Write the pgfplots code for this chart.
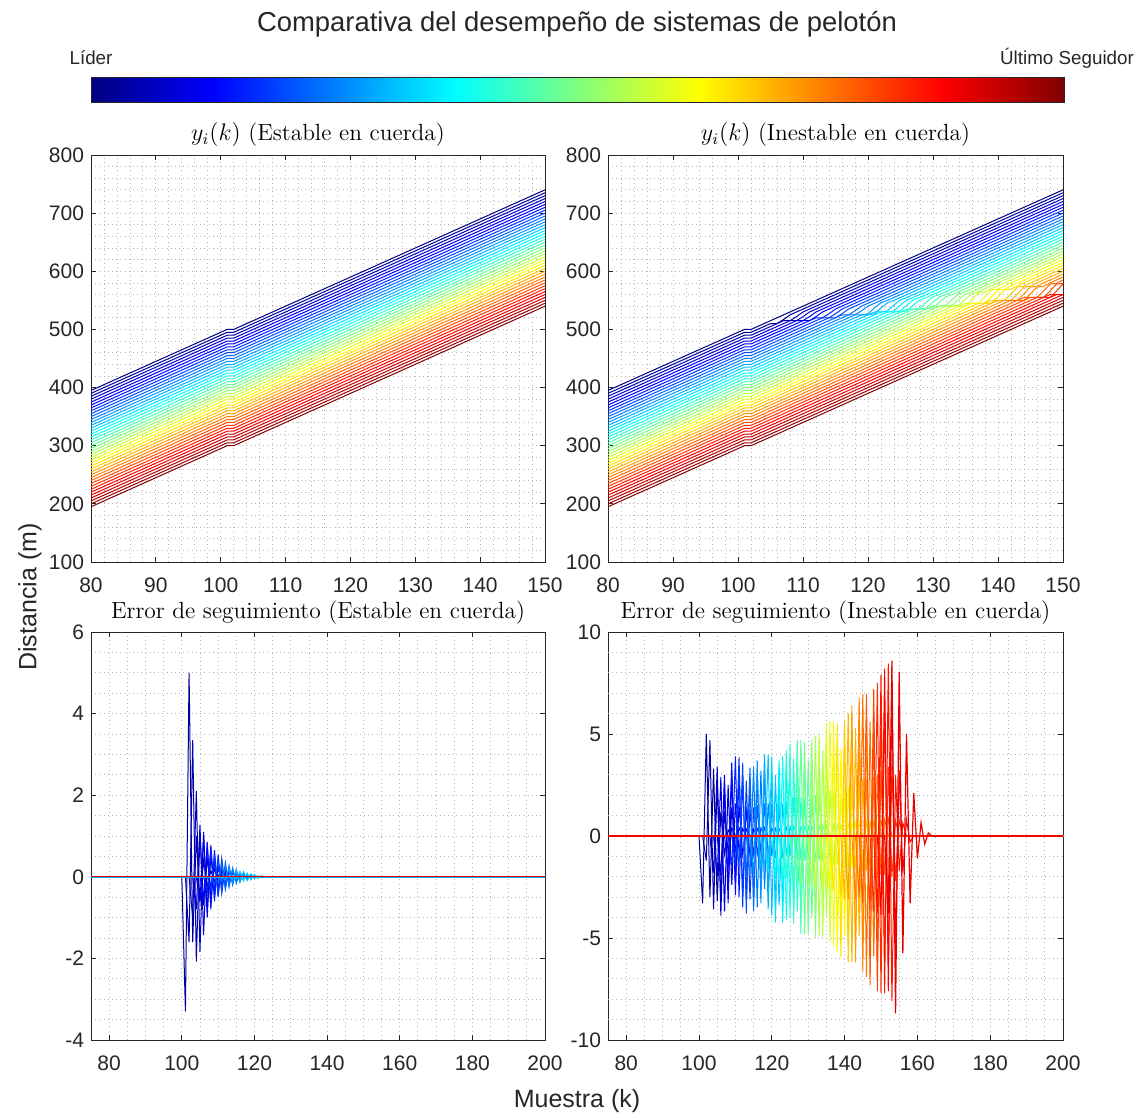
\documentclass[border=0pt]{standalone}
\usepackage{fontspec}
\usepackage{pgfplots}
\pgfplotsset{compat=1.18}
\newfontfamily\hv{Liberation Sans}
\definecolor{axgray}{rgb}{0.15,0.15,0.15}
\pgfplotsset{
  colormap={matjet}{rgb255(0cm)=(0,0,128) rgb255(1cm)=(0,0,255) rgb255(3cm)=(0,255,255) rgb255(5cm)=(255,255,0) rgb255(7cm)=(255,0,0) rgb255(8cm)=(128,0,0)},
  L/.style={color of colormap={#1 of matjet}, line width=0.5pt, mark=none},
  pan/.style={scale only axis, anchor=south west,
    axis line style={draw=axgray, line width=0.45pt},
    tick style={draw=axgray, line width=0.45pt},
    major tick length=2.5pt, minor tick length=0pt, minor tick num=4,
    grid=both,
    major grid style={draw=black!30, line width=0.4pt, dash pattern=on 0.5pt off 1.6pt},
    minor grid style={draw=black!30, line width=0.4pt, dash pattern=on 0.5pt off 1.6pt},
    tick label style={font=\hv\fontsize{10.5}{12}\selectfont, text=axgray},
    xticklabel style={yshift=-4.5pt},
    /pgf/number format/assume math mode=true,
    title style={font=\fontsize{11.7}{14}\selectfont, text=black, yshift=-5.5pt},
  },
}
\begin{document}
\begin{tikzpicture}
\useasboundingbox (0,0) rectangle (570pt,559pt);

% ---------------- colorbar ----------------
\begin{axis}[at={(45.5pt,507.5pt)}, anchor=south west, scale only axis,
  width=486.5pt, height=12.5pt, xmin=0, xmax=1, ymin=0, ymax=1,
  xtick=\empty, ytick=\empty, axis line style={draw=axgray, line width=0.5pt},
  colormap name=matjet, axis on top]
\addplot[surf, shader=interp, point meta=x, mesh/rows=2] coordinates {
(0,0) (0.125,0) (0.375,0) (0.625,0) (0.875,0) (1,0)
(0,1) (0.125,1) (0.375,1) (0.625,1) (0.875,1) (1,1)};
\end{axis}

% ---------------- top left ----------------
\begin{axis}[pan, at={(45.5pt,278pt)}, width=227pt, height=203.5pt,
  xmin=80, xmax=150, ymin=100, ymax=800,
  xtick={80,90,...,150}, ytick={100,200,...,800},
  title={$y_i(k)$ (Estable en cuerda)}]
\addplot[L=0] coordinates {(80,395)(101,500)(102,500)(150,740)};
\addplot[L=25] coordinates {(80,390)(101,495)(102,495)(150,735)};
\addplot[L=50] coordinates {(80,385)(101,490)(102,490)(150,730)};
\addplot[L=75] coordinates {(80,380)(101,485)(102,485)(150,725)};
\addplot[L=100] coordinates {(80,375)(101,480)(102,480)(150,720)};
\addplot[L=125] coordinates {(80,370)(101,475)(102,475)(150,715)};
\addplot[L=150] coordinates {(80,365)(101,470)(102,470)(150,710)};
\addplot[L=175] coordinates {(80,360)(101,465)(102,465)(150,705)};
\addplot[L=200] coordinates {(80,355)(101,460)(102,460)(150,700)};
\addplot[L=225] coordinates {(80,350)(101,455)(102,455)(150,695)};
\addplot[L=250] coordinates {(80,345)(101,450)(102,450)(150,690)};
\addplot[L=275] coordinates {(80,340)(101,445)(102,445)(150,685)};
\addplot[L=300] coordinates {(80,335)(101,440)(102,440)(150,680)};
\addplot[L=325] coordinates {(80,330)(101,435)(102,435)(150,675)};
\addplot[L=350] coordinates {(80,325)(101,430)(102,430)(150,670)};
\addplot[L=375] coordinates {(80,320)(101,425)(102,425)(150,665)};
\addplot[L=400] coordinates {(80,315)(101,420)(102,420)(150,660)};
\addplot[L=425] coordinates {(80,310)(101,415)(102,415)(150,655)};
\addplot[L=450] coordinates {(80,305)(101,410)(102,410)(150,650)};
\addplot[L=475] coordinates {(80,300)(101,405)(102,405)(150,645)};
\addplot[L=500] coordinates {(80,295)(101,400)(102,400)(150,640)};
\addplot[L=525] coordinates {(80,290)(101,395)(102,395)(150,635)};
\addplot[L=550] coordinates {(80,285)(101,390)(102,390)(150,630)};
\addplot[L=575] coordinates {(80,280)(101,385)(102,385)(150,625)};
\addplot[L=600] coordinates {(80,275)(101,380)(102,380)(150,620)};
\addplot[L=625] coordinates {(80,270)(101,375)(102,375)(150,615)};
\addplot[L=650] coordinates {(80,265)(101,370)(102,370)(150,610)};
\addplot[L=675] coordinates {(80,260)(101,365)(102,365)(150,605)};
\addplot[L=700] coordinates {(80,255)(101,360)(102,360)(150,600)};
\addplot[L=725] coordinates {(80,250)(101,355)(102,355)(150,595)};
\addplot[L=750] coordinates {(80,245)(101,350)(102,350)(150,590)};
\addplot[L=775] coordinates {(80,240)(101,345)(102,345)(150,585)};
\addplot[L=800] coordinates {(80,235)(101,340)(102,340)(150,580)};
\addplot[L=825] coordinates {(80,230)(101,335)(102,335)(150,575)};
\addplot[L=850] coordinates {(80,225)(101,330)(102,330)(150,570)};
\addplot[L=875] coordinates {(80,220)(101,325)(102,325)(150,565)};
\addplot[L=900] coordinates {(80,215)(101,320)(102,320)(150,560)};
\addplot[L=925] coordinates {(80,210)(101,315)(102,315)(150,555)};
\addplot[L=950] coordinates {(80,205)(101,310)(102,310)(150,550)};
\addplot[L=975] coordinates {(80,200)(101,305)(102,305)(150,545)};
\addplot[L=1000] coordinates {(80,195)(101,300)(102,300)(150,540)};
\end{axis}

% ---------------- top right ----------------
\begin{axis}[pan, at={(304pt,278pt)}, width=227.5pt, height=203.5pt,
  xmin=80, xmax=150, ymin=100, ymax=800,
  xtick={80,90,...,150}, ytick={100,200,...,800},
  title={$y_i(k)$ (Inestable en cuerda)}]
\addplot[L=0] coordinates {(80,395)(101,500)(102,500)(150,740)};
\addplot[L=25] coordinates {(80,390)(101,495)(102,495)(105,510)(106,510)(107,517)(108,525)(150,735)};
\addplot[L=50] coordinates {(80,385)(101,490)(102,490)(107,515)(108,515)(109,522)(110,530)(150,730)};
\addplot[L=75] coordinates {(80,380)(101,485)(102,485)(108,515)(109,515)(110,522)(111,530)(150,725)};
\addplot[L=100] coordinates {(80,375)(101,480)(102,480)(109,515)(110,515)(111,522)(112,530)(150,720)};
\addplot[L=125] coordinates {(80,370)(101,475)(102,475)(110,515)(111,515)(112,522)(113,530)(150,715)};
\addplot[L=150] coordinates {(80,365)(101,470)(102,470)(112,520)(113,520)(114,527)(115,535)(150,710)};
\addplot[L=175] coordinates {(80,360)(101,465)(102,465)(113,520)(114,520)(115,527)(116,535)(150,705)};
\addplot[L=200] coordinates {(80,355)(101,460)(102,460)(114,520)(115,520)(116,527)(117,535)(150,700)};
\addplot[L=225] coordinates {(80,350)(101,455)(102,455)(116,525)(117,525)(118,532)(119,540)(150,695)};
\addplot[L=250] coordinates {(80,345)(101,450)(102,450)(117,525)(118,525)(119,532)(120,540)(150,690)};
\addplot[L=275] coordinates {(80,340)(101,445)(102,445)(118,525)(119,525)(120,527)(121,537)(122,546)(123,550)(150,685)};
\addplot[L=300] coordinates {(80,335)(101,440)(102,440)(119,525)(120,525)(121,527)(122,537)(123,546)(124,550)(150,680)};
\addplot[L=325] coordinates {(80,330)(101,435)(102,435)(121,530)(122,530)(123,532)(124,542)(125,551)(126,555)(150,675)};
\addplot[L=350] coordinates {(80,325)(101,430)(102,430)(122,530)(123,530)(124,532)(125,542)(126,551)(127,555)(150,670)};
\addplot[L=375] coordinates {(80,320)(101,425)(102,425)(123,530)(124,530)(125,532)(126,542)(127,551)(128,555)(150,665)};
\addplot[L=400] coordinates {(80,315)(101,420)(102,420)(124,530)(125,530)(126,532)(127,542)(128,551)(129,555)(150,660)};
\addplot[L=425] coordinates {(80,310)(101,415)(102,415)(126,535)(127,535)(128,537)(129,547)(130,556)(131,560)(150,655)};
\addplot[L=450] coordinates {(80,305)(101,410)(102,410)(127,535)(128,535)(129,537)(130,547)(131,556)(132,560)(150,650)};
\addplot[L=475] coordinates {(80,300)(101,405)(102,405)(128,535)(129,535)(130,537)(131,547)(132,556)(133,560)(150,645)};
\addplot[L=500] coordinates {(80,295)(101,400)(102,400)(130,540)(131,540)(132,542)(133,552)(134,561)(135,565)(150,640)};
\addplot[L=525] coordinates {(80,290)(101,395)(102,395)(131,540)(132,540)(133,542)(134,552)(135,561)(136,565)(150,635)};
\addplot[L=550] coordinates {(80,285)(101,390)(102,390)(132,540)(133,540)(134,542)(135,552)(136,561)(137,565)(150,630)};
\addplot[L=575] coordinates {(80,280)(101,385)(102,385)(133,540)(134,540)(135,540)(136,551)(137,563)(138,564)(139,570)(150,625)};
\addplot[L=600] coordinates {(80,275)(101,380)(102,380)(135,545)(136,545)(137,545)(138,556)(139,568)(140,569)(141,575)(150,620)};
\addplot[L=625] coordinates {(80,270)(101,375)(102,375)(136,545)(137,545)(138,545)(139,556)(140,568)(141,569)(142,575)(150,615)};
\addplot[L=650] coordinates {(80,265)(101,370)(102,370)(137,545)(138,545)(139,545)(140,556)(141,568)(142,569)(143,575)(150,610)};
\addplot[L=675] coordinates {(80,260)(101,365)(102,365)(139,550)(140,550)(141,550)(142,561)(143,573)(144,574)(145,580)(150,605)};
\addplot[L=700] coordinates {(80,255)(101,360)(102,360)(140,550)(141,550)(142,550)(143,561)(144,573)(145,574)(146,580)(150,600)};
\addplot[L=725] coordinates {(80,250)(101,355)(102,355)(141,550)(142,550)(143,550)(144,561)(145,573)(146,574)(147,580)(150,595)};
\addplot[L=750] coordinates {(80,245)(101,350)(102,350)(142,550)(143,550)(144,550)(145,561)(146,573)(147,574)(148,580)(150,590)};
\addplot[L=775] coordinates {(80,240)(101,345)(102,345)(144,555)(145,555)(146,555)(147,566)(148,578)(149,579)(150,585)};
\addplot[L=800] coordinates {(80,235)(101,340)(102,340)(145,555)(146,555)(147,555)(148,566)(149,578)(150,579)(151,585)};
\addplot[L=825] coordinates {(80,230)(101,335)(102,335)(146,555)(147,555)(148,555)(149,566)(150,578)(151,579)};
\addplot[L=850] coordinates {(80,225)(101,330)(102,330)(148,560)(149,560)(150,560)(151,571)};
\addplot[L=875] coordinates {(80,220)(101,325)(102,325)(149,560)(150,560)(151,560)(152,571)};
\addplot[L=900] coordinates {(80,215)(101,320)(102,320)(150,560)};
\addplot[L=925] coordinates {(80,210)(101,315)(102,315)(150,555)};
\addplot[L=950] coordinates {(80,205)(101,310)(102,310)(150,550)};
\addplot[L=975] coordinates {(80,200)(101,305)(102,305)(150,545)};
\addplot[L=1000] coordinates {(80,195)(101,300)(102,300)(150,540)};
\end{axis}

% ---------------- bottom left ----------------
\begin{axis}[pan, at={(45.5pt,39pt)}, width=227pt, height=204pt,
  xmin=75, xmax=200, ymin=-4, ymax=6, minor tick num=3,
  xtick={80,100,...,200}, ytick={-4,-2,...,6},
  title={Error de seguimiento (Estable en cuerda)}]
\addplot[L=22.5] coordinates {(75,0)(100,0)(101,-3.3)(102,5.0)(103,-1.6)(104,1.0)(105,-0.6)(106,0.4)(107,-0.25)(108,0.15)(109,-0.1)(110,0.05)(111,0)(200,0)};
\addplot[L=45] coordinates {(75,0)(101,0)(102,-1.6)(103,3.35)(104,-2.08)(105,1.1)(106,-0.7)(107,0.45)(108,-0.3)(109,0.2)(110,-0.1)(111,0.05)(112,0)(200,0)};
\addplot[L=67.5] coordinates {(75,0)(102,0)(103,-1.0)(104,2.1)(105,-1.84)(106,1.1)(107,-0.8)(108,0.5)(109,-0.3)(110,0.2)(111,-0.1)(112,0.05)(113,0)(200,0)};
\addplot[L=90] coordinates {(75,0)(103,0)(104,-0.8)(105,1.27)(106,-1.43)(107,0.85)(108,-0.6)(109,0.4)(110,-0.25)(111,0.15)(112,-0.08)(113,0)(200,0)};
\addplot[L=112.5] coordinates {(75,0)(104,0)(105,-0.6)(106,1.0)(107,-1.0)(108,0.78)(109,-0.5)(110,0.35)(111,-0.22)(112,0.12)(113,-0.06)(114,0)(200,0)};
\addplot[L=135] coordinates {(75,0)(105,0)(106,-0.5)(107,0.8)(108,-0.8)(109,0.65)(110,-0.45)(111,0.3)(112,-0.18)(113,0.1)(114,-0.05)(115,0)(200,0)};
\addplot[L=157.5] coordinates {(75,0)(106,0)(107,-0.4)(108,0.7)(109,-0.6)(110,0.55)(111,-0.4)(112,0.25)(113,-0.15)(114,0.08)(115,0)(200,0)};
\addplot[L=180] coordinates {(75,0)(107,0)(108,-0.3)(109,0.55)(110,-0.5)(111,0.45)(112,-0.3)(113,0.2)(114,-0.12)(115,0.06)(116,0)(200,0)};
\addplot[L=202.5] coordinates {(75,0)(108,0)(109,-0.2)(110,0.4)(111,-0.35)(112,0.35)(113,-0.25)(114,0.18)(115,-0.1)(116,0.05)(117,0)(200,0)};
\addplot[L=225] coordinates {(75,0)(109,0)(110,-0.15)(111,0.3)(112,-0.3)(113,0.28)(114,-0.2)(115,0.15)(116,-0.08)(117,0.04)(118,0)(200,0)};
\addplot[L=247.5] coordinates {(75,0)(110,0)(111,-0.1)(112,0.25)(113,-0.22)(114,0.22)(115,-0.16)(116,0.12)(117,-0.07)(118,0.04)(119,0)(200,0)};
\addplot[L=270] coordinates {(75,0)(111,0)(112,-0.08)(113,0.2)(114,-0.18)(115,0.18)(116,-0.13)(117,0.1)(118,-0.06)(119,0.03)(120,0)(200,0)};
\addplot[L=292.5] coordinates {(75,0)(113,0)(114,-0.06)(115,0.15)(116,-0.13)(117,0.12)(118,-0.09)(119,0.07)(120,-0.04)(121,0.02)(122,0)(200,0)};
\addplot[L=315] coordinates {(75,0)(114,0)(115,-0.05)(116,0.12)(117,-0.1)(118,0.09)(119,-0.07)(120,0.05)(121,-0.03)(122,0.02)(123,0)(200,0)};
\addplot[L=337.5] coordinates {(75,0)(116,0)(117,-0.04)(118,0.08)(119,-0.07)(120,0.06)(121,-0.04)(122,0.03)(123,-0.02)(124,0)(200,0)};
\addplot[L=360] coordinates {(75,0)(200,0)};
\addplot[L=382.5] coordinates {(75,0)(200,0)};
\addplot[L=405] coordinates {(75,0)(200,0)};
\addplot[L=427.5] coordinates {(75,0)(200,0)};
\addplot[L=450] coordinates {(75,0)(200,0)};
\addplot[L=472.5] coordinates {(75,0)(200,0)};
\addplot[L=495] coordinates {(75,0)(200,0)};
\addplot[L=517.5] coordinates {(75,0)(200,0)};
\addplot[L=540] coordinates {(75,0)(200,0)};
\addplot[L=562.5] coordinates {(75,0)(200,0)};
\addplot[L=585] coordinates {(75,0)(200,0)};
\addplot[L=607.5] coordinates {(75,0)(200,0)};
\addplot[L=630] coordinates {(75,0)(200,0)};
\addplot[L=652.5] coordinates {(75,0)(200,0)};
\addplot[L=675] coordinates {(75,0)(200,0)};
\addplot[L=697.5] coordinates {(75,0)(200,0)};
\addplot[L=720] coordinates {(75,0)(200,0)};
\addplot[L=742.5] coordinates {(75,0)(200,0)};
\addplot[L=765] coordinates {(75,0)(200,0)};
\addplot[L=787.5] coordinates {(75,0)(200,0)};
\addplot[L=810] coordinates {(75,0)(200,0)};
\addplot[L=832.5] coordinates {(75,0)(200,0)};
\addplot[L=855] coordinates {(75,0)(200,0)};
\addplot[L=877.5] coordinates {(75,0)(200,0)};
\addplot[L=900, line width=0.6pt] coordinates {(75,0)(200,0)};
\end{axis}

% ---------------- bottom right ----------------
\begin{axis}[pan, at={(304pt,39pt)}, width=227.5pt, height=204pt,
  xmin=75, xmax=200, ymin=-10, ymax=10, minor tick num=3,
  xtick={80,100,...,200}, ytick={-10,-5,...,10},
  title={Error de seguimiento (Inestable en cuerda)},
  extra y ticks={-9,-8,-7,-6,-4,-3,-2,-1,1,2,3,4,6,7,8,9}, extra y tick labels={},
  extra y tick style={major tick length=0pt, grid=major, major grid style={draw=black!30, line width=0.4pt, dash pattern=on 0.5pt off 1.6pt}},
  yminorgrids=false]
\addplot[L=22.5] coordinates {(75,0)(100,0)(101,-3.3)(102,5.0)(103,-3.0)(104,3.3)(105,-3.2)(106,1.2)(107,-0.9)(108,0.3)(109,0)(200,0)};
\addplot[L=45] coordinates {(75,0)(101,0)(102,-1.2)(103,4.7)(104,-3.6)(105,2.7)(106,-3.1)(107,1.2)(108,-0.8)(109,0.4)(110,0)(200,0)};
\addplot[L=67.5] coordinates {(75,0)(103,0)(104,-1.8)(105,3.4)(106,-3.9)(107,2.4)(108,-2.6)(109,1.4)(110,-0.7)(111,0.4)(112,0)(200,0)};
\addplot[L=90] coordinates {(75,0)(104,0)(105,-2.0)(106,2.9)(107,-3.7)(108,2.5)(109,-2.4)(110,1.6)(111,-0.75)(112,0.36)(113,0)(200,0)};
\addplot[L=112.5] coordinates {(75,0)(105,0)(106,-1.95)(107,3.0)(108,-3.3)(109,2.9)(110,-2.3)(111,1.5)(112,-0.9)(113,0.34)(114,0)(200,0)};
\addplot[L=135] coordinates {(75,0)(107,0)(108,-1.65)(109,3.6)(110,-2.9)(111,3.1)(112,-2.8)(113,1.4)(114,-1.0)(115,0.34)(116,0)(200,0)};
\addplot[L=157.5] coordinates {(75,0)(108,0)(109,-1.5)(110,3.9)(111,-3.0)(112,2.9)(113,-3.0)(114,1.3)(115,-0.9)(116,0.37)(117,0)(200,0)};
\addplot[L=180] coordinates {(75,0)(109,0)(110,-1.45)(111,3.85)(112,-3.5)(113,2.7)(114,-3.1)(115,1.4)(116,-0.9)(117,0.4)(118,0)(200,0)};
\addplot[L=202.5] coordinates {(75,0)(110,0)(111,-1.5)(112,3.6)(113,-3.8)(114,2.7)(115,-3.0)(116,1.5)(117,-0.8)(118,0.4)(119,0)(200,0)};
\addplot[L=225] coordinates {(75,0)(112,0)(113,-1.9)(114,3.35)(115,-3.7)(116,3.0)(117,-2.6)(118,1.6)(119,-0.9)(120,0.39)(121,0)(200,0)};
\addplot[L=247.5] coordinates {(75,0)(113,0)(114,-1.9)(115,3.4)(116,-3.5)(117,3.2)(118,-2.6)(119,1.6)(120,-1.0)(121,0.38)(122,0)(200,0)};
\addplot[L=270] coordinates {(75,0)(114,0)(115,-1.85)(116,3.7)(117,-3.3)(118,3.2)(119,-2.9)(120,1.6)(121,-1.1)(122,0.37)(123,0)(200,0)};
\addplot[L=292.5] coordinates {(75,0)(116,0)(117,-1.65)(118,4.0)(119,-3.6)(120,3.1)(121,-3.4)(122,1.5)(123,-1.1)(124,0.42)(125,0)(200,0)};
\addplot[L=315] coordinates {(75,0)(117,0)(118,-1.6)(119,4.0)(120,-3.9)(121,3.0)(122,-3.4)(123,1.6)(124,-1.0)(125,0.45)(126,0)(200,0)};
\addplot[L=337.5] coordinates {(75,0)(118,0)(119,-1.8)(120,3.9)(121,-4.25)(122,3.0)(123,-3.4)(124,1.7)(125,-1.0)(126,0.47)(127,0)(200,0)};
\addplot[L=360] coordinates {(75,0)(120,0)(121,-2.1)(122,3.7)(123,-4.25)(124,3.4)(125,-3.2)(126,1.9)(127,-1.15)(128,0.47)(129,0)(200,0)};
\addplot[L=382.5] coordinates {(75,0)(121,0)(122,-2.15)(123,3.9)(124,-4.1)(125,3.6)(126,-3.4)(127,1.9)(128,-1.2)(129,0.46)(130,0)(200,0)};
\addplot[L=405] coordinates {(75,0)(122,0)(123,-2.1)(124,4.2)(125,-4.0)(126,3.8)(127,-3.7)(128,1.9)(129,-1.2)(130,0.47)(131,0)(200,0)};
\addplot[L=427.5] coordinates {(75,0)(123,0)(124,-2.05)(125,4.5)(126,-4.3)(127,3.8)(128,-3.8)(129,1.8)(130,-1.2)(131,0.48)(132,0)(200,0)};
\addplot[L=450] coordinates {(75,0)(125,0)(126,-2.15)(127,4.7)(128,-4.8)(129,3.7)(130,-3.8)(131,1.9)(132,-1.25)(133,0.5)(134,0)(200,0)};
\addplot[L=472.5] coordinates {(75,0)(126,0)(127,-2.3)(128,4.7)(129,-4.8)(130,3.7)(131,-4.0)(132,2.0)(133,-1.2)(134,0.53)(135,0)(200,0)};
\addplot[L=495] coordinates {(75,0)(127,0)(128,-2.4)(129,4.6)(130,-4.8)(131,3.8)(132,-4.0)(133,2.0)(134,-1.25)(135,0.55)(136,0)(200,0)};
\addplot[L=517.5] coordinates {(75,0)(129,0)(130,-2.4)(131,4.75)(132,-5.0)(133,4.0)(134,-4.0)(135,2.2)(136,-1.3)(137,0.56)(138,0)(200,0)};
\addplot[L=540] coordinates {(75,0)(130,0)(131,-2.5)(132,4.9)(133,-4.9)(134,4.2)(135,-4.0)(136,2.3)(137,-1.4)(138,0.55)(139,0)(200,0)};
\addplot[L=562.5] coordinates {(75,0)(131,0)(132,-2.5)(133,5.0)(134,-4.95)(135,4.4)(136,-4.2)(137,2.2)(138,-1.4)(139,0.54)(140,0)(200,0)};
\addplot[L=585] coordinates {(75,0)(133,0)(134,-2.5)(135,5.55)(136,-5.2)(137,4.5)(138,-4.6)(139,2.1)(140,-1.5)(141,0.6)(142,0)(200,0)};
\addplot[L=607.5] coordinates {(75,0)(134,0)(135,-2.5)(136,5.65)(137,-5.45)(138,4.4)(139,-4.8)(140,2.3)(141,-1.55)(142,0.64)(143,0)(200,0)};
\addplot[L=630] coordinates {(75,0)(135,0)(136,-2.6)(137,5.6)(138,-5.7)(139,4.3)(140,-4.9)(141,2.4)(142,-1.55)(143,0.67)(144,0)(200,0)};
\addplot[L=652.5] coordinates {(75,0)(136,0)(137,-2.7)(138,5.5)(139,-5.95)(140,4.6)(141,-5.0)(142,2.6)(143,-1.55)(144,0.68)(145,0)(200,0)};
\addplot[L=675] coordinates {(75,0)(138,0)(139,-3.0)(140,5.7)(141,-6.2)(142,5.1)(143,-5.0)(144,2.7)(145,-1.7)(146,0.7)(147,0)(200,0)};
\addplot[L=697.5] coordinates {(75,0)(139,0)(140,-3.1)(141,6.0)(142,-6.2)(143,5.3)(144,-4.9)(145,2.8)(146,-1.7)(147,0.7)(148,0)(200,0)};
\addplot[L=720] coordinates {(75,0)(140,0)(141,-3.1)(142,6.4)(143,-6.2)(144,5.4)(145,-5.3)(146,2.8)(147,-1.8)(148,0.72)(149,0)(200,0)};
\addplot[L=742.5] coordinates {(75,0)(142,0)(143,-3.1)(144,6.8)(145,-6.65)(146,5.6)(147,-5.8)(148,2.9)(149,-1.9)(150,0.79)(151,0)(200,0)};
\addplot[L=765] coordinates {(75,0)(143,0)(144,-3.05)(145,6.95)(146,-6.9)(147,5.6)(148,-5.9)(149,3.0)(150,-1.9)(151,0.82)(152,0)(200,0)};
\addplot[L=787.5] coordinates {(75,0)(144,0)(145,-3.3)(146,6.95)(147,-7.3)(148,5.8)(149,-6.1)(150,3.2)(151,-1.9)(152,0.85)(153,0)(200,0)};
\addplot[L=810] coordinates {(75,0)(146,0)(147,-3.65)(148,7.2)(149,-7.6)(150,6.3)(151,-6.2)(152,3.4)(153,-2.0)(154,0.74)(155,0)(200,0)};
\addplot[L=832.5] coordinates {(75,0)(147,0)(148,-3.7)(149,7.5)(150,-7.7)(151,6.6)(152,-6.1)(153,3.4)(154,-2.2)(155,0.8)(156,0)(200,0)};
\addplot[L=855] coordinates {(75,0)(148,0)(149,-3.8)(150,7.9)(151,-7.7)(152,8.45)(153,-8.1)(154,3.0)(155,-1.7)(156,0.65)(157,0)(200,0)};
\addplot[L=877.5] coordinates {(75,0)(149,0)(150,-3.85)(151,8.2)(152,-7.6)(153,7.0)(154,-5.5)(155,3.2)(156,-1.8)(157,0.8)(158,-0.3)(159,0)(200,0)};
\addplot[L=900, line width=0.6pt] coordinates {(75,0)(151,0)(152,-3.8)(153,8.6)(154,-8.7)(155,8.05)(156,-5.75)(157,5.0)(158,-3.3)(159,2.1)(160,-1.1)(161,0.65)(162,-0.4)(163,0.15)(164,0)(200,0)};
\end{axis}

% ---------------- texts ----------------
\node[font=\hv\fontsize{13.7}{16}\selectfont, text=axgray] at (288.5pt,547pt) {Comparativa del desempeño de sistemas de pelotón};
\node[font=\hv\fontsize{9.4}{11}\selectfont, text=axgray] at (45.5pt,530pt) {Líder};
\node[font=\hv\fontsize{9.4}{11}\selectfont, text=axgray] at (533.5pt,530pt) {Último Seguidor};
\node[font=\hv\fontsize{12.5}{14}\selectfont, text=axgray, rotate=90] at (15pt,260.5pt) {Distancia (m)};
\node[font=\hv\fontsize{12.5}{14}\selectfont, text=axgray] at (288.5pt,8.5pt) {Muestra (k)};
\end{tikzpicture}
\end{document}
